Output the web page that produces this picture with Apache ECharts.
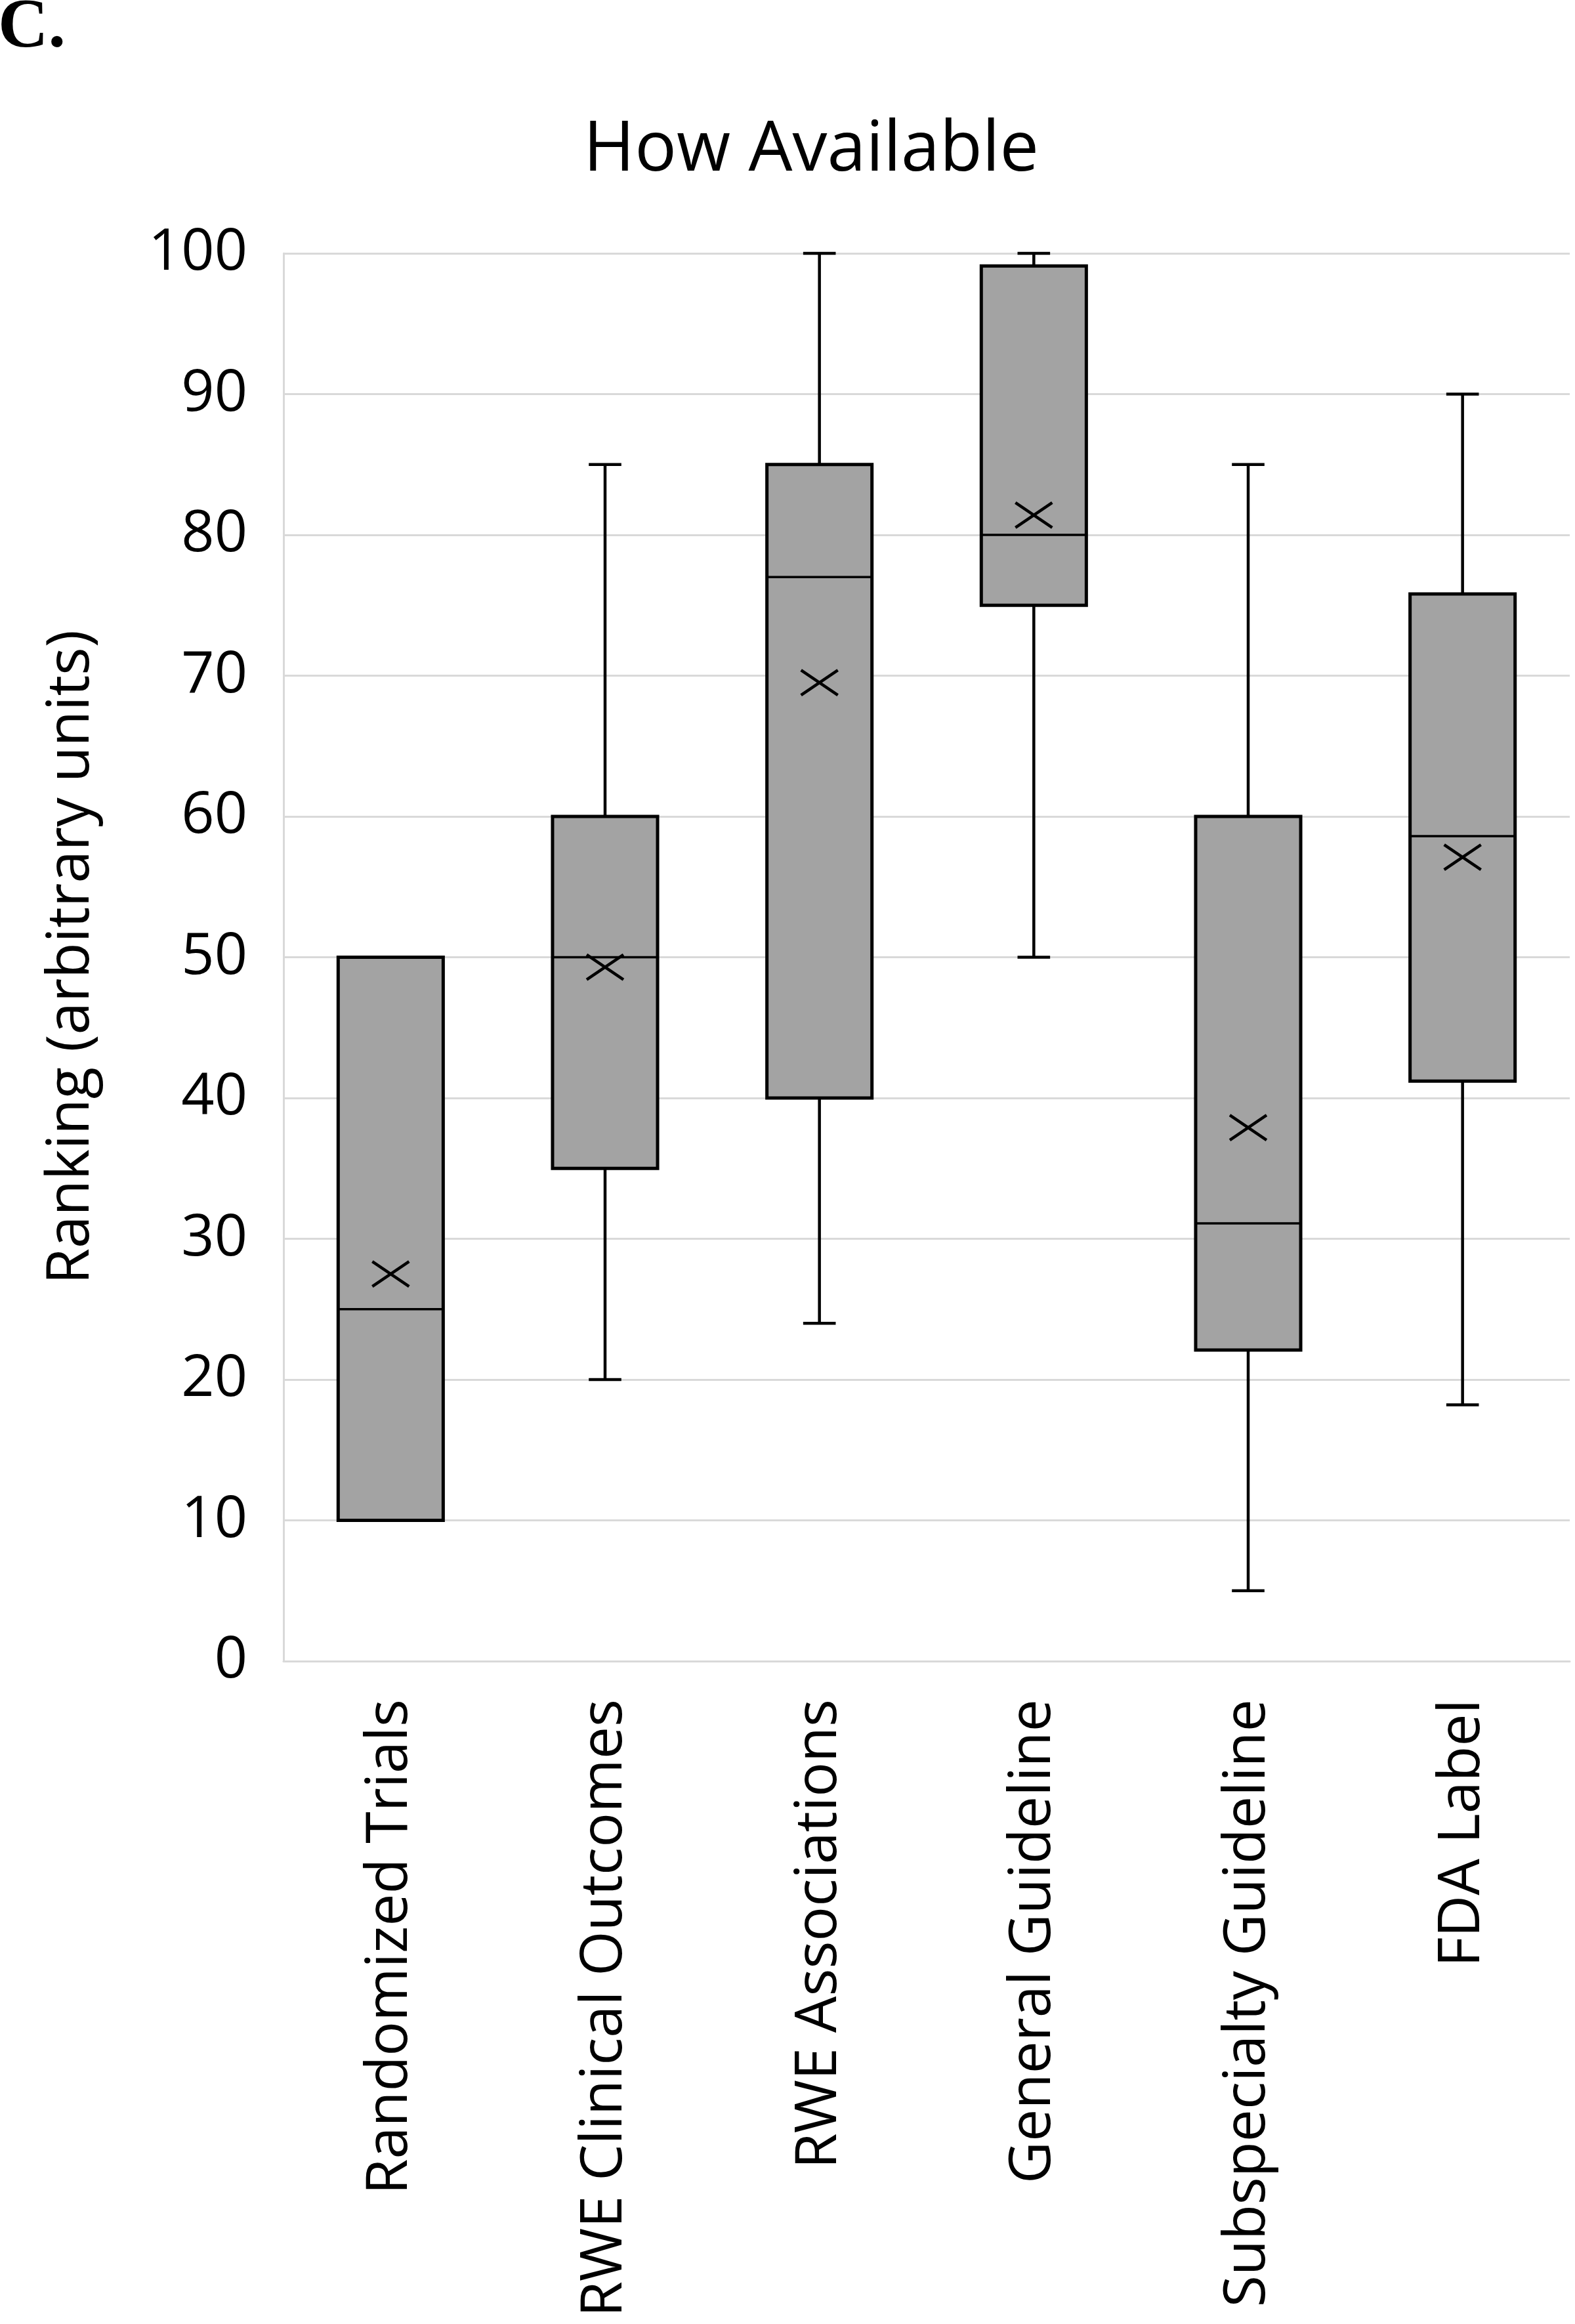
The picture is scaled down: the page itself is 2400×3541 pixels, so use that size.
<!DOCTYPE html>
<html>
<head>
<meta charset="utf-8">
<script src="https://cdn.jsdelivr.net/npm/echarts@6/dist/echarts.min.js"></script>
<style>
html,body{margin:0;padding:0;background:#fff;}
#chart{width:2400px;height:3541px;}
</style>
</head>
<body>
<div id="chart"></div>
<script>
const categories = ['Randomized Trials','RWE Clinical Outcomes','RWE Associations','General Guideline','Subspecialty Guideline','FDA Label'];
const whiskerLow  = [10, 20, 24, 50, 5, 18.2];
const q1Values    = [10, 35, 40, 75, 22.1, 41.2];
const medianVals  = [25, 50, 77, 80, 31.1, 58.6];
const q3Values    = [50, 60, 85, 99.1, 60, 75.8];
const whiskerHigh = [50, 85, 100, 100, 85, 90];
const meanValues  = [27.5, 49.3, 69.5, 81.4, 37.9, 57.1];
const yTicks = [0, 10, 20, 30, 40, 50, 60, 70, 80, 90, 100];

const data = categories.map((c, i) => [i, whiskerLow[i], q1Values[i], medianVals[i], q3Values[i], whiskerHigh[i], meanValues[i]]);

const FONT = '"Open Sans", "Noto Sans", sans-serif';

function renderItem(params, api) {
  const idx = api.value(0);
  const pLow = api.coord([idx, api.value(1)]);
  const pQ1 = api.coord([idx, api.value(2)]);
  const pMed = api.coord([idx, api.value(3)]);
  const pQ3 = api.coord([idx, api.value(4)]);
  const pHigh = api.coord([idx, api.value(5)]);
  const pMean = api.coord([idx, api.value(6)]);
  const band = api.size([1, 0])[0];
  const bw = band * 0.49;
  const cap = bw * 0.31;
  const cx = pQ1[0];
  const lineStyle = {stroke: '#000', lineWidth: 4.5};
  const children = [];
  if (pHigh[1] < pQ3[1] - 0.5) {
    children.push({type: 'line', shape: {x1: cx, y1: pQ3[1], x2: cx, y2: pHigh[1]}, style: lineStyle});
    children.push({type: 'line', shape: {x1: cx - cap/2, y1: pHigh[1], x2: cx + cap/2, y2: pHigh[1]}, style: lineStyle});
  }
  if (pLow[1] > pQ1[1] + 0.5) {
    children.push({type: 'line', shape: {x1: cx, y1: pQ1[1], x2: cx, y2: pLow[1]}, style: lineStyle});
    children.push({type: 'line', shape: {x1: cx - cap/2, y1: pLow[1], x2: cx + cap/2, y2: pLow[1]}, style: lineStyle});
  }
  children.push({type: 'rect', shape: {x: cx - bw/2, y: pQ3[1], width: bw, height: pQ1[1] - pQ3[1]},
    style: {fill: '#a3a3a3', stroke: '#000', lineWidth: 5}});
  children.push({type: 'line', shape: {x1: cx - bw/2, y1: pMed[1], x2: cx + bw/2, y2: pMed[1]}, style: {stroke: '#000', lineWidth: 3.5}});
  const hx = 28, hy = 19;
  const xs = {stroke: '#000', lineWidth: 4.5};
  children.push({type: 'line', shape: {x1: pMean[0] - hx, y1: pMean[1] - hy, x2: pMean[0] + hx, y2: pMean[1] + hy}, style: xs});
  children.push({type: 'line', shape: {x1: pMean[0] - hx, y1: pMean[1] + hy, x2: pMean[0] + hx, y2: pMean[1] - hy}, style: xs});
  return {type: 'group', children};
}

const chart = echarts.init(document.getElementById('chart'), null, {renderer: 'canvas'});
chart.setOption({
  backgroundColor: '#fff',
  animation: false,
  title: [
    {text: 'How Available', left: 1231, top: 172, textAlign: 'center',
     textStyle: {fontFamily: FONT, fontSize: 106, fontWeight: 'normal', color: '#000'}},
    {text: 'C.', left: -8, top: -14,
     textStyle: {fontFamily: '"Liberation Serif", "Times New Roman", serif', fontSize: 106, fontWeight: 'bold', color: '#000'}}
  ],
  grid: {left: 432, right: 8, top: 386, bottom: 1010, containLabel: false},
  xAxis: {
    type: 'category',
    data: categories,
    boundaryGap: true,
    axisLine: {show: true, lineStyle: {color: '#d9d9d9', width: 3}},
    axisTick: {show: false},
    splitLine: {show: false},
    axisLabel: {rotate: 90, margin: 58, interval: 0, fontFamily: FONT, fontSize: 88, color: '#000'}
  },
  yAxis: {
    type: 'value',
    min: 0, max: 100, interval: 10,
    name: 'Ranking (arbitrary units)',
    nameLocation: 'middle',
    nameGap: 278,
    nameTextStyle: {fontFamily: FONT, fontSize: 89, color: '#000'},
    axisLine: {show: true, lineStyle: {color: '#d9d9d9', width: 3}},
    axisTick: {show: false},
    splitLine: {show: true, lineStyle: {color: '#d9d9d9', width: 3}},
    axisLabel: {margin: 55, fontFamily: FONT, fontSize: 88, color: '#000',
      formatter: v => yTicks.includes(v) ? String(v) : ''}
  },
  series: [{
    type: 'custom',
    renderItem: renderItem,
    encode: {x: 0, y: [1, 2, 3, 4, 5, 6]},
    data: data,
    z: 5
  }]
});
</script>
</body>
</html>
